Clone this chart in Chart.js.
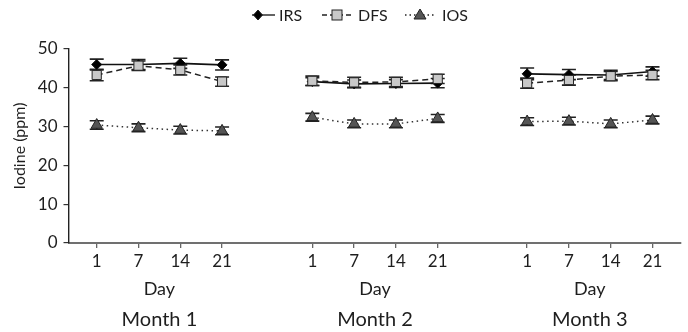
<!DOCTYPE html>
<html>
<head>
<meta charset="utf-8">
<script src="https://cdn.jsdelivr.net/npm/chart.js@4.4.1/dist/chart.umd.min.js"></script>
<style>
html,body{margin:0;padding:0;background:#fff;}
#wrap{width:688px;height:332px;position:relative;}
</style>
</head>
<body>
<div id="wrap"><canvas id="c" width="688" height="332"></canvas></div>
<script>
// ---- data ----
const dayLabels = ['1', '7', '14', '21'];
const monthLabels = ['Month 1', 'Month 2', 'Month 3'];
const dayAxisTitle = 'Day';
const yTicks = [0, 10, 20, 30, 40, 50];
const seriesNames = ['IRS', 'DFS', 'IOS'];
const irs    = [46.0, 46.0, 46.3, 45.9,  41.6, 41.0, 41.1, 41.2,  43.6, 43.4, 43.3, 44.2];
const irsErr = [1.4, 1.3, 1.3, 1.3,  1.0, 1.0, 1.0, 1.2,  1.5, 1.3, 1.2, 1.2];
const dfs    = [43.3, 45.7, 44.6, 41.6,  41.8, 41.4, 41.5, 42.3,  41.2, 42.0, 43.0, 43.3];
const dfsErr = [1.5, 1.2, 1.3, 1.2,  1.2, 1.3, 1.2, 1.2,  1.3, 1.3, 1.2, 1.2];
const ios    = [30.4, 29.7, 29.1, 28.9,  32.4, 30.7, 30.7, 32.1,  31.3, 31.4, 30.7, 31.7];
const iosErr = [1.1, 1.0, 1.0, 1.0,  1.0, 1.0, 1.0, 1.0,  1.0, 1.0, 1.0, 1.0];

// ---- layout of groups on the x scale ----
const groupStart = [0, 5.16, 10.3];
const xPos = [];
groupStart.forEach(g => dayLabels.forEach((d, j) => xPos.push(g + j)));

function buildPoints(vals, errs) {
  const pts = [];
  vals.forEach((v, i) => {
    pts.push({x: xPos[i], y: v, err: errs[i]});
    if (i % 4 === 3 && i < vals.length - 1) pts.push({x: xPos[i] + 1, y: null});
  });
  return pts;
}

const FONT = 'Lato, "Noto Sans", sans-serif';
const TXT = '#1e1e1e';

const errorBars = {
  id: 'errorBars',
  beforeDatasetsDraw(chart) {
    const ctx = chart.ctx, ys = chart.scales.y;
    ctx.save();
    chart.data.datasets.forEach((ds, di) => {
      const meta = chart.getDatasetMeta(di);
      meta.data.forEach((el, i) => {
        const r = ds.data[i];
        if (r.y == null) return;
        const top = ys.getPixelForValue(r.y + r.err);
        const bot = ys.getPixelForValue(r.y - r.err);
        const x = el.x, w = 7;
        ctx.strokeStyle = '#222';
        ctx.lineWidth = 1.6;
        ctx.setLineDash([]);
        ctx.beginPath();
        ctx.moveTo(x, top); ctx.lineTo(x, bot);
        ctx.moveTo(x - w, top); ctx.lineTo(x + w, top);
        ctx.moveTo(x - w, bot); ctx.lineTo(x + w, bot);
        ctx.stroke();
      });
    });
    ctx.restore();
  }
};

function drawMarker(ctx, style, x, y) {
  ctx.save();
  ctx.setLineDash([]);
  ctx.lineWidth = 1;
  ctx.strokeStyle = '#222';
  if (style === 'rectRot') {
    ctx.fillStyle = '#000';
    ctx.beginPath();
    ctx.moveTo(x, y - 5); ctx.lineTo(x + 4.5, y); ctx.lineTo(x, y + 5); ctx.lineTo(x - 4.5, y);
    ctx.closePath(); ctx.fill(); ctx.stroke();
  } else if (style === 'rect') {
    ctx.fillStyle = '#c8c8c8';
    ctx.fillRect(x - 5, y - 5, 10, 10);
    ctx.strokeRect(x - 5, y - 5, 10, 10);
  } else {
    ctx.fillStyle = '#555';
    ctx.beginPath();
    ctx.moveTo(x, y - 6); ctx.lineTo(x + 6, y + 4); ctx.lineTo(x - 6, y + 4);
    ctx.closePath(); ctx.fill(); ctx.stroke();
  }
  ctx.restore();
}

const customLabels = {
  id: 'customLabels',
  afterDraw(chart) {
    const ctx = chart.ctx, xs = chart.scales.x;
    ctx.save();
    ctx.fillStyle = TXT;
    ctx.textAlign = 'center';
    ctx.textBaseline = 'alphabetic';
    groupStart.forEach((g, k) => {
      const cx = xs.getPixelForValue(g + (dayLabels.length - 1) / 2);
      ctx.font = '18px ' + FONT;
      ctx.fillText(dayAxisTitle, cx, 295);
      ctx.font = '20px ' + FONT;
      ctx.fillText(monthLabels[k], cx, 326);
    });
    // legend
    const items = [
      {name: seriesNames[0], x0: 252, x1: 275, m: 258, dash: [], style: 'rectRot', tx: 279},
      {name: seriesNames[1], x0: 322, x1: 353, m: 337, dash: [5, 3], style: 'rect', tx: 358},
      {name: seriesNames[2], x0: 405, x1: 435, m: 420, dash: [1.5, 3], style: 'triangle', tx: 442}
    ];
    const ly = 15;
    items.forEach(it => {
      ctx.strokeStyle = '#222';
      ctx.lineWidth = 1.4;
      ctx.setLineDash(it.dash);
      ctx.beginPath(); ctx.moveTo(it.x0, ly); ctx.lineTo(it.x1, ly); ctx.stroke();
      drawMarker(ctx, it.style, it.m, ly);
      ctx.font = '16px ' + FONT;
      ctx.fillStyle = TXT;
      ctx.textAlign = 'left';
      ctx.textBaseline = 'middle';
      ctx.fillText(it.name, it.tx, ly + 1);
    });
    ctx.restore();
  }
};

new Chart(document.getElementById('c'), {
  type: 'line',
  data: {
    datasets: [
      {label: seriesNames[0], data: buildPoints(irs, irsErr), borderColor: '#111', borderWidth: 1.6,
       pointStyle: 'rectRot', pointRadius: 5, pointBackgroundColor: '#000', pointBorderColor: '#111', pointBorderWidth: 1, spanGaps: false, order: 3},
      {label: seriesNames[1], data: buildPoints(dfs, dfsErr), borderColor: '#222', borderWidth: 1.5, borderDash: [6, 4],
       pointStyle: 'rect', pointRadius: 6.5, pointBackgroundColor: '#c8c8c8', pointBorderColor: '#222', pointBorderWidth: 1, spanGaps: false, order: 2},
      {label: seriesNames[2], data: buildPoints(ios, iosErr), borderColor: '#333', borderWidth: 1.5, borderDash: [1.5, 3.5],
       pointStyle: 'triangle', pointRadius: 6.5, pointBackgroundColor: '#555', pointBorderColor: '#222', pointBorderWidth: 1, spanGaps: false, order: 1}
    ]
  },
  options: {
    responsive: false,
    animation: false,
    devicePixelRatio: 1,
    layout: {padding: {top: 49, right: 7, left: 0, bottom: 0}},
    plugins: {legend: {display: false}, tooltip: {enabled: false}},
    scales: {
      x: {
        type: 'linear',
        min: -0.675, max: 13.97,
        afterBuildTicks: s => { s.ticks = xPos.map(v => ({value: v})); },
        afterFit: s => { s.height = 89; },
        ticks: {
          autoSkip: false, maxRotation: 0, padding: 3,
          color: TXT, font: {family: FONT, size: 17},
          callback: (v) => { const i = xPos.findIndex(p => Math.abs(p - v) < 1e-6); return i < 0 ? '' : dayLabels[i % dayLabels.length]; }
        },
        grid: {display: true, drawOnChartArea: false, drawTicks: true, tickLength: 5, color: '#666', lineWidth: 1.3},
        border: {display: true, color: '#707070', width: 2}
      },
      y: {
        min: 0, max: 50,
        afterBuildTicks: s => { s.ticks = yTicks.map(v => ({value: v})); },
        afterFit: s => { s.width = 68.5; },
        ticks: {padding: 6, color: TXT, font: {family: FONT, size: 17}},
        grid: {display: true, drawOnChartArea: false, drawTicks: true, tickLength: 5, color: '#333', lineWidth: 1.2},
        border: {display: true, color: '#222', width: 1.4},
        title: {display: true, text: 'Iodine (ppm)', color: TXT, font: {family: FONT, size: 16}, padding: {top: 10, bottom: 0}}
      }
    }
  },
  plugins: [errorBars, customLabels]
});
</script>
</body>
</html>
